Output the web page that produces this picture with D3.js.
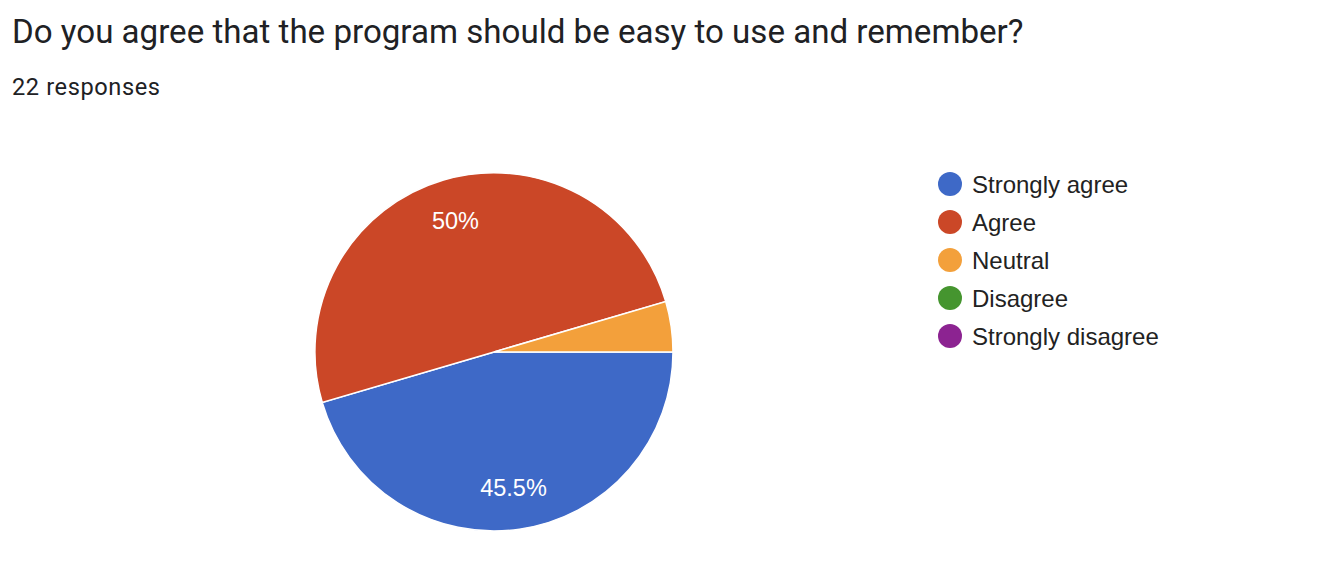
<!DOCTYPE html>
<html><head><meta charset="utf-8">
<script src="https://cdn.jsdelivr.net/npm/d3@7"></script>
<style>body{margin:0;background:#fff}svg{display:block}</style>
</head><body>
<svg id="c" width="1344" height="582"></svg>
<script>
const categories = ["Strongly agree","Agree","Neutral","Disagree","Strongly disagree"];
const counts = [10, 11, 1, 0, 0];
const labels = ["45.5%","50%","","",""];
const colors = ["#3e69c7","#cb4727","#f3a03b","#45952f","#8c2391"];
const title = "Do you agree that the program should be easy to use and remember?";
const subtitle = "22 responses";

const svg = d3.select("#c");
const t = svg.append("text").attr("x",12).attr("y",43).attr("fill","#202124")
  .attr("font-family","Roboto, 'Open Sans', sans-serif").attr("font-size",28).text(title);
const w = t.node().getComputedTextLength();
t.attr("font-size", 28*1012/w);
const s = svg.append("text").attr("x",12).attr("y",95).attr("fill","#202124")
  .attr("font-family","Roboto, sans-serif").attr("font-size",20).attr("letter-spacing",0.6).text(subtitle);
const sw = s.node().getComputedTextLength();
s.attr("font-size", 20*150/sw);

const cx=494, cy=352, r=179;
const pie = d3.pie().sort(null).value(d=>d).startAngle(Math.PI/2).endAngle(Math.PI/2+2*Math.PI);
const arcs = pie(counts);
const arc = d3.arc().innerRadius(0).outerRadius(r);
const lab = d3.arc().innerRadius(r*0.765).outerRadius(r*0.765);
const g = svg.append("g").attr("transform",`translate(${cx},${cy})`);
g.selectAll("path").data(arcs.filter(d=>d.value>0)).join("path")
  .attr("d",arc).attr("fill",d=>colors[d.index]).attr("stroke","#fff").attr("stroke-width",1.5);
g.selectAll("text").data(arcs.filter(d=>labels[d.index])).join("text")
  .attr("transform",d=>`translate(${lab.centroid(d)})`).attr("text-anchor","middle").attr("dy","0.36em")
  .attr("fill","#fff").attr("font-family","'Liberation Sans', Arial, sans-serif").attr("font-size",23.5)
  .text(d=>labels[d.index]);

const y = d3.scalePoint().domain(categories).range([184,336]);
const lg = svg.append("g");
categories.forEach((c,i)=>{
  lg.append("circle").attr("cx",950).attr("cy",y(c)).attr("r",12).attr("fill",colors[i]);
  lg.append("text").attr("x",972).attr("y",y(c)).attr("dy","0.36em").attr("fill","#222")
    .attr("font-family","'Liberation Sans', Arial, sans-serif").attr("font-size",24).text(c);
});
</script>
</body></html>
